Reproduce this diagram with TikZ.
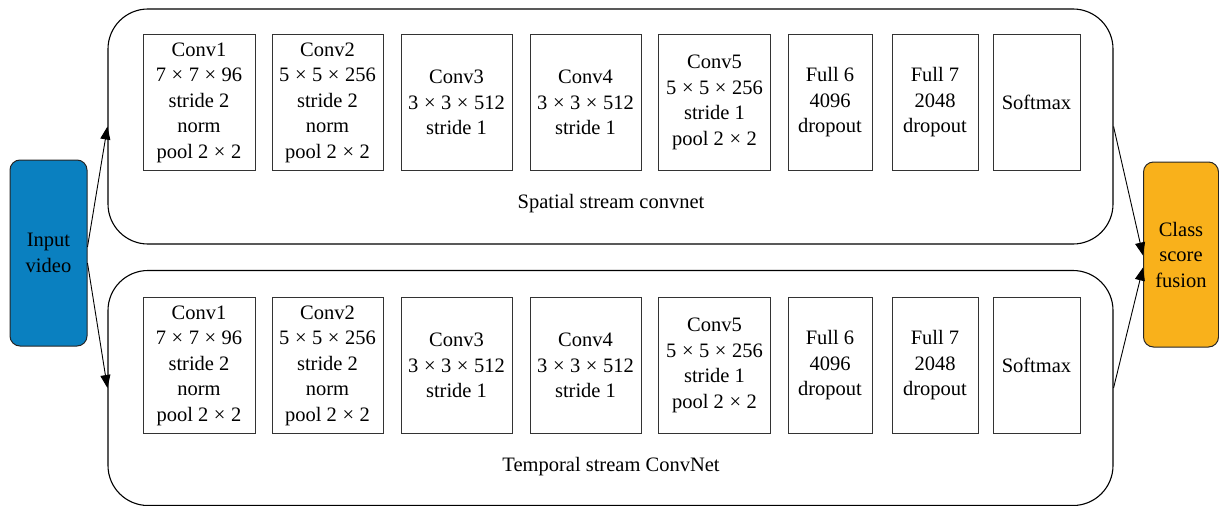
\documentclass[tikz,border=0pt]{standalone}
\usepackage{fontspec}
\setmainfont{Liberation Serif}
\usetikzlibrary{arrows.meta}
\newcommand\mytimes{\hspace{0.27em}×\hspace{0.27em}}
\definecolor{inblue}{HTML}{0A80C0}
\definecolor{fusorange}{HTML}{F9B11B}
\begin{document}
\begin{tikzpicture}[x=1pt,y=-1pt,
  every node/.style={font=\fontsize{20.5}{25.5}\selectfont, inner sep=0pt},
  stream/.style={draw=black, line width=1.1pt, rounded corners=40pt, minimum width=1005pt, minimum height=235pt},
  layer/.style={draw=black!80, line width=1pt, align=center, minimum height=136pt},
  endbox/.style={draw=black!85, line width=1pt, rounded corners=10pt, align=center, minimum width=77pt, minimum height=186pt},
  conn/.style={line width=0.9pt, -{Triangle[length=13pt,width=10pt]}}
]
\useasboundingbox (0,0) rectangle (1219,506);
\node[stream] (sp) at (610.5,126.5) {};
\node[stream] (tm) at (610.5,388) {};
\node at (611,203.5) (splab) {Spatial stream convnet};
\node at (611,466.5) (tmlab) {Temporal stream ConvNet};
\node[endbox, fill=inblue] (in) at (48.5,253) {Input\\video};
\node[endbox, fill=fusorange, minimum width=75pt, minimum height=185pt] (fus) at (1181,254.5) {Class\\score\\fusion};
% spatial row
\node[layer, minimum width=112pt] (s1) at (199,102.5) {Conv1\\7\mytimes 7\mytimes 96\\stride 2\\norm\\pool 2\mytimes 2};
\node[layer, minimum width=111pt] (s2) at (327.5,102.5) {Conv2\\5\mytimes 5\mytimes 256\\stride 2\\norm\\pool 2\mytimes 2};
\node[layer, minimum width=111pt] (s3) at (456.5,102.5) {Conv3\\3\mytimes 3\mytimes 512\\stride 1};
\node[layer, minimum width=111pt] (s4) at (585.5,102.5) {Conv4\\3\mytimes 3\mytimes 512\\stride 1};
\node[layer, minimum width=112pt] (s5) at (714.5,102.5) {Conv5\\5\mytimes 5\mytimes 256\\stride 1\\pool 2\mytimes 2};
\node[layer, minimum width=84pt] (s6) at (830,102.5) {Full 6\\4096\\dropout};
\node[layer, minimum width=86pt] (s7) at (935,102.5) {Full 7\\2048\\dropout};
\node[layer, minimum width=87pt] (s8) at (1036.5,102.5) {Softmax};
% temporal row
\node[layer, minimum width=112pt] (t1) at (199,365.5) {Conv1\\7\mytimes 7\mytimes 96\\stride 2\\norm\\pool 2\mytimes 2};
\node[layer, minimum width=111pt] (t2) at (327.5,365.5) {Conv2\\5\mytimes 5\mytimes 256\\stride 2\\norm\\pool 2\mytimes 2};
\node[layer, minimum width=111pt] (t3) at (456.5,365.5) {Conv3\\3\mytimes 3\mytimes 512\\stride 1};
\node[layer, minimum width=111pt] (t4) at (585.5,365.5) {Conv4\\3\mytimes 3\mytimes 512\\stride 1};
\node[layer, minimum width=112pt] (t5) at (714.5,365.5) {Conv5\\5\mytimes 5\mytimes 256\\stride 1\\pool 2\mytimes 2};
\node[layer, minimum width=84pt] (t6) at (830,365.5) {Full 6\\4096\\dropout};
\node[layer, minimum width=86pt] (t7) at (935,365.5) {Full 7\\2048\\dropout};
\node[layer, minimum width=87pt] (t8) at (1036.5,365.5) {Softmax};
% connectors
\draw[conn] ([yshift=6pt]in.east) -- (sp.west);
\draw[conn] ([yshift=-10pt]in.east) -- (tm.west);
\draw[conn] (sp.east) -- ([yshift=-1pt]fus.west);
\draw[conn] (tm.east) -- ([yshift=-13pt]fus.west);
\end{tikzpicture}
\end{document}
